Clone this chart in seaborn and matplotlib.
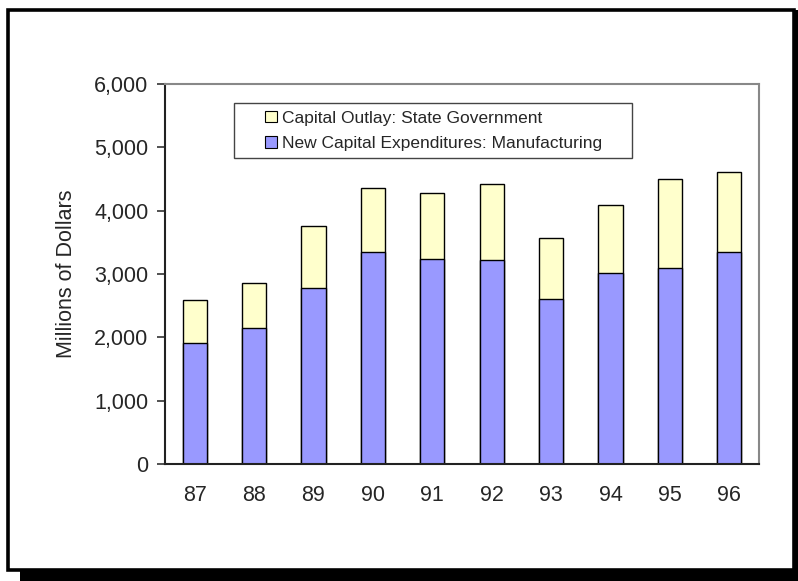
import matplotlib
matplotlib.use("Agg")
import matplotlib.pyplot as plt
import seaborn as sns
import pandas as pd
from matplotlib.patches import Patch, Rectangle
from matplotlib.ticker import FuncFormatter, FixedLocator

years = ["87", "88", "89", "90", "91", "92", "93", "94", "95", "96"]
manufacturing = [1910, 2147, 2774, 3342, 3237, 3221, 2600, 3011, 3099, 3352]
state_outlay = [675, 711, 989, 1011, 1042, 1200, 973, 1074, 1396, 1263]
totals = [m + s for m, s in zip(manufacturing, state_outlay)]
series_labels = ["Capital Outlay: State Government",
                 "New Capital Expenditures: Manufacturing"]

BLUE = "#9999FF"
YELLOW = "#FFFFCC"

df = pd.DataFrame({"year": years, "manufacturing": manufacturing, "total": totals})

sns.set_style("white")
plt.rcParams["font.family"] = ["Liberation Sans", "DejaVu Sans"]

W, H = 798, 581
fig = plt.figure(figsize=(W / 100, H / 100), dpi=100)
AX_L, AX_R, AX_T, AX_B = 165, 759, 84, 464
ax = fig.add_axes([AX_L / W, (H - AX_B) / H, (AX_R - AX_L) / W, (AX_B - AX_T) / H])

sns.barplot(data=df, x="year", y="total", color=YELLOW, saturation=1,
            width=0.41, edgecolor="black", linewidth=1.0, ax=ax)
sns.barplot(data=df, x="year", y="manufacturing", color=BLUE, saturation=1,
            width=0.41, edgecolor="black", linewidth=1.0, ax=ax)

ax.set_xlim(-0.5, len(years) - 0.5)
ax.set_ylim(0, 6000)
ax.set_yticks(range(0, 6001, 1000))
ax.yaxis.set_major_formatter(FuncFormatter(lambda v, p: f"{int(v):,}"))
ax.set_xlabel("")
ax.set_ylabel("Millions of Dollars", fontsize=15.5, labelpad=12)

ax.set_xticks(range(len(years)))
ax.set_xticklabels(years)
ax.xaxis.set_minor_locator(FixedLocator([i - 0.5 for i in range(len(years) + 1)]))
ax.tick_params(axis="x", which="major", length=0, labelsize=15.5, pad=15)
ax.tick_params(axis="x", which="minor", length=6, width=1.2, color="#333333", direction="out")
ax.tick_params(axis="y", length=6, width=1.2, color="#333333", labelsize=15.5, pad=6,
               direction="out", left=True)

for side in ["left", "bottom"]:
    ax.spines[side].set_color("#222222")
    ax.spines[side].set_linewidth(1.5)
for side in ["top", "right"]:
    ax.spines[side].set_visible(True)
    ax.spines[side].set_color("#888888")
    ax.spines[side].set_linewidth(1.5)


def px_x(px):
    return (px - AX_L) / (AX_R - AX_L)


def px_y(py):
    return (AX_B - py) / (AX_B - AX_T)


# legend box
ax.add_patch(Rectangle((px_x(234), px_y(158)), px_x(632) - px_x(234), px_y(103) - px_y(158),
                       transform=ax.transAxes, facecolor="white", edgecolor="#444444",
                       linewidth=1.0, zorder=4, clip_on=False))
handles = [Patch(facecolor=YELLOW, edgecolor="black", linewidth=0.8),
           Patch(facecolor=BLUE, edgecolor="black", linewidth=0.8)]
leg = ax.legend(handles, series_labels, loc="center left",
                bbox_to_anchor=(px_x(265), px_y(131)), fontsize=12.5, frameon=False,
                handlelength=0.68, handleheight=0.68, handletextpad=0.32,
                borderpad=0, labelspacing=0.62, borderaxespad=0)
leg.set_zorder(5)

# outer frame with shadow
fig.patches.append(Rectangle((20 / W, 0), (W - 20) / W, 11 / H, transform=fig.transFigure,
                             facecolor="black", edgecolor="none", zorder=0))
fig.patches.append(Rectangle((793 / W, 0), 5 / W, (H - 10) / H, transform=fig.transFigure,
                             facecolor="black", edgecolor="none", zorder=0))
fig.patches.append(Rectangle((7.5 / W, 11.5 / H), (793.5 - 7.5) / W, (H - 9.5 - 11.5) / H,
                             transform=fig.transFigure, facecolor="none",
                             edgecolor="black", linewidth=2.6, zorder=1))

fig.savefig("out.png", dpi=100)
